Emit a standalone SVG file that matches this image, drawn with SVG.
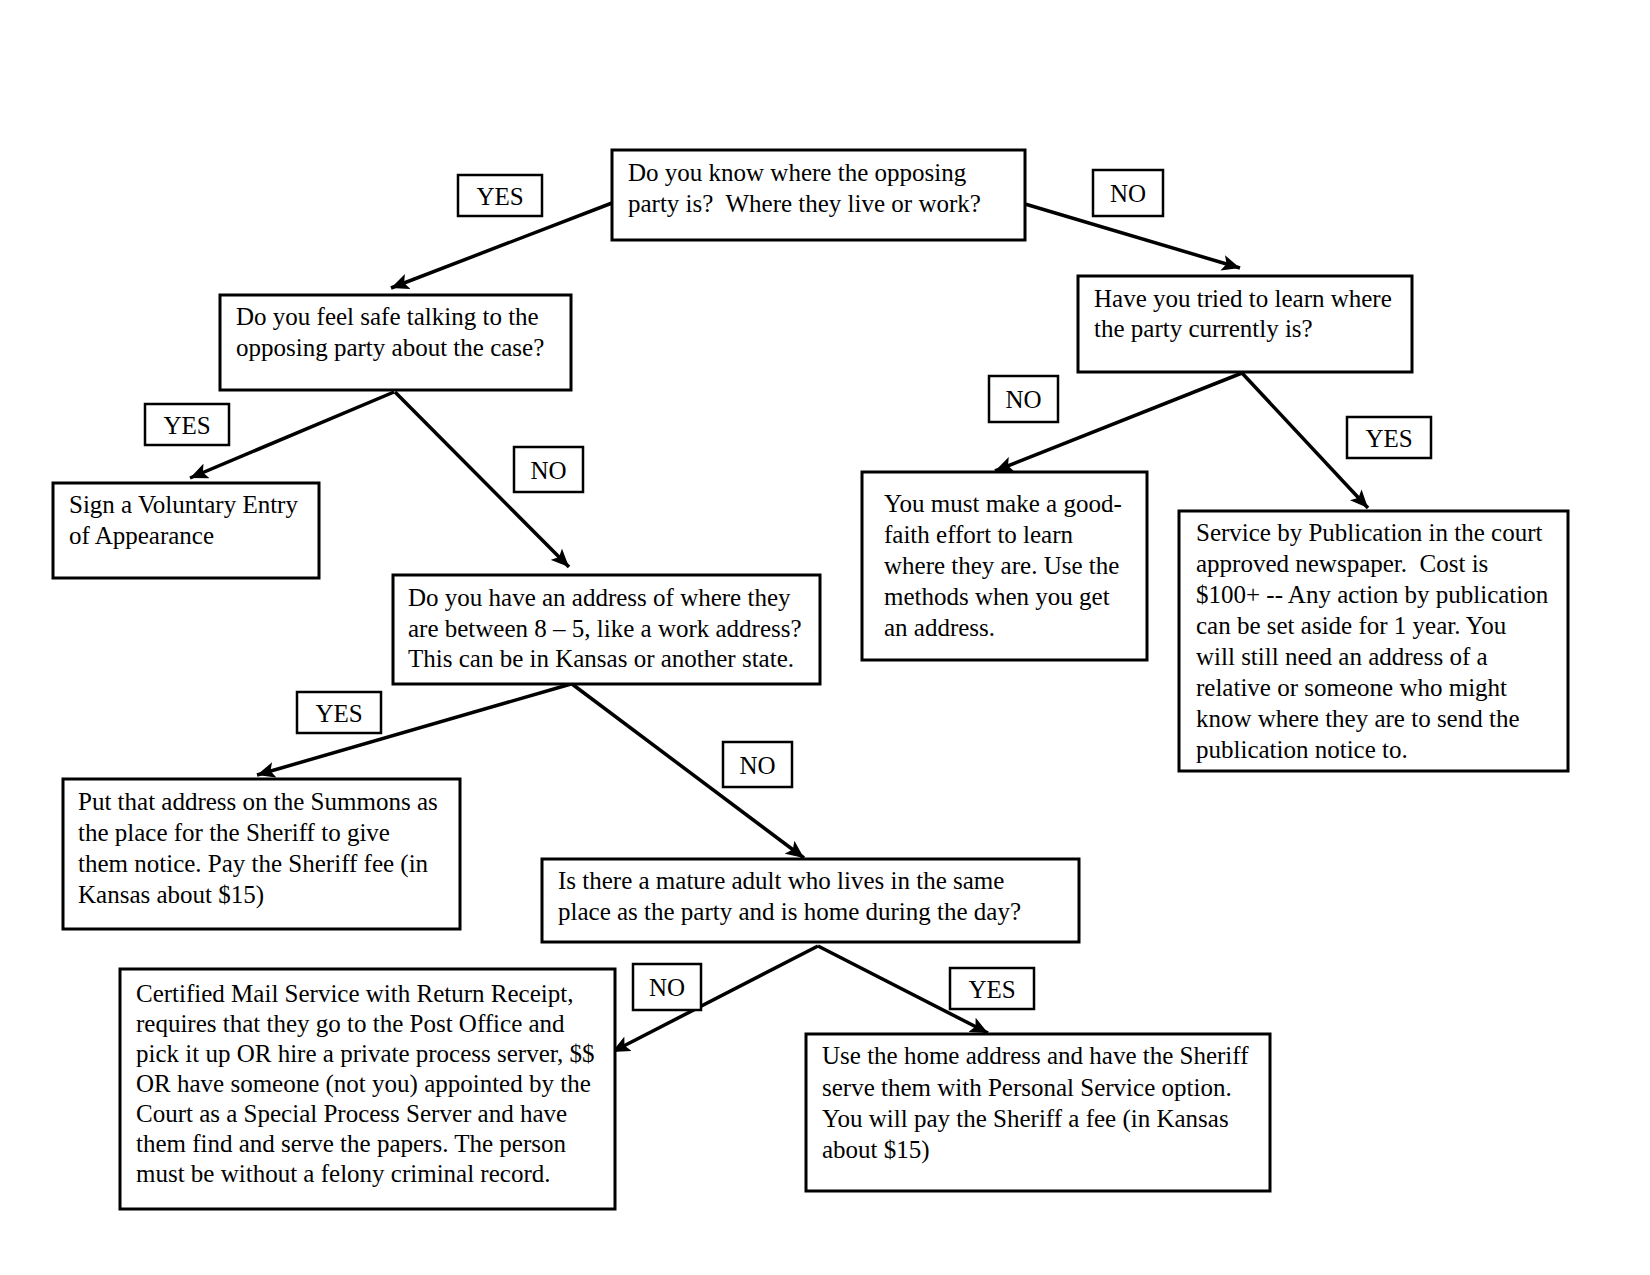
<svg xmlns="http://www.w3.org/2000/svg" width="1650" height="1275" viewBox="0 0 1650 1275">
<style>
.box{fill:#fff;stroke:#000;stroke-width:3}
.lbl{fill:#fff;stroke:#000;stroke-width:2.5}
text{font-family:"Liberation Serif","Times New Roman",serif;font-size:25px;fill:#000;white-space:pre}
.c{text-anchor:middle}
.ar{stroke:#000;stroke-width:3.5;fill:none;marker-end:url(#ah)}
</style>
<defs>
<marker id="ah" markerUnits="userSpaceOnUse" markerWidth="20" markerHeight="16" refX="18" refY="8" orient="auto">
<path d="M0,0 L18,8 L0,16 L4,8 Z" fill="#000"/>
</marker>
</defs>
<rect width="1650" height="1275" fill="#fff"/>
<g id="connectors">
<line class="ar" x1="612" y1="203" x2="391" y2="288"/>
<line class="ar" x1="394" y1="392" x2="190" y2="478"/>
<line class="ar" x1="395" y1="392" x2="569" y2="567"/>
<line class="ar" x1="1025" y1="204" x2="1240" y2="268"/>
<line class="ar" x1="1242" y1="373" x2="995" y2="471"/>
<line class="ar" x1="1242" y1="373" x2="1368" y2="508"/>
<line class="ar" x1="571" y1="684" x2="257" y2="775"/>
<line class="ar" x1="572" y1="684" x2="804" y2="858"/>
<line class="ar" x1="818" y1="946" x2="612" y2="1052"/>
<line class="ar" x1="818" y1="946" x2="988" y2="1033"/>
</g>
<g id="labels">
<g id="l1"><rect class="lbl" x="458" y="175" width="84" height="41"/><text class="c" x="500" y="205">YES</text></g>
<g id="l2"><rect class="lbl" x="1093" y="170" width="70" height="46"/><text class="c" x="1128" y="202">NO</text></g>
<g id="l3"><rect class="lbl" x="145" y="404" width="84" height="41"/><text class="c" x="187" y="434">YES</text></g>
<g id="l4"><rect class="lbl" x="514" y="447" width="69" height="45"/><text class="c" x="548.5" y="479">NO</text></g>
<g id="l5"><rect class="lbl" x="989" y="376" width="69" height="46"/><text class="c" x="1023.5" y="408">NO</text></g>
<g id="l6"><rect class="lbl" x="1347" y="417" width="84" height="41"/><text class="c" x="1389" y="447">YES</text></g>
<g id="l7"><rect class="lbl" x="297" y="692" width="84" height="41"/><text class="c" x="339" y="722">YES</text></g>
<g id="l8"><rect class="lbl" x="723" y="742" width="69" height="45"/><text class="c" x="757.5" y="774">NO</text></g>
<g id="l9"><rect class="lbl" x="633" y="964" width="68" height="46"/><text class="c" x="667" y="996">NO</text></g>
<g id="l10"><rect class="lbl" x="950" y="968" width="84" height="41"/><text class="c" x="992" y="998">YES</text></g>
</g>
<g id="nodeA"><rect class="box" x="612" y="150" width="413" height="90"/>
<text x="628" y="181">Do you know where the opposing</text><text x="628" y="212">party is?  Where they live or work?</text></g>
<g id="nodeB"><rect class="box" x="220" y="295" width="351" height="95"/>
<text x="236" y="325">Do you feel safe talking to the</text><text x="236" y="356">opposing party about the case?</text></g>
<g id="nodeSign"><rect class="box" x="53" y="483" width="266" height="95"/>
<text x="69" y="513">Sign a Voluntary Entry</text><text x="69" y="544">of Appearance</text></g>
<g id="nodeC"><rect class="box" x="1078" y="276" width="334" height="96"/>
<text x="1094" y="307">Have you tried to learn where</text><text x="1094" y="337">the party currently is?</text></g>
<g id="nodeD"><rect class="box" x="862" y="472" width="285" height="188"/>
<text x="884" y="512">You must make a good-</text><text x="884" y="543">faith effort to learn</text><text x="884" y="574">where they are. Use the</text><text x="884" y="605">methods when you get</text><text x="884" y="636">an address.</text></g>
<g id="nodeE"><rect class="box" x="1179" y="511" width="389" height="260"/>
<text x="1196" y="541">Service by Publication in the court</text><text x="1196" y="572">approved newspaper.  Cost is</text><text x="1196" y="603">$100+ -- Any action by publication</text><text x="1196" y="634">can be set aside for 1 year. You</text><text x="1196" y="665">will still need an address of a</text><text x="1196" y="696">relative or someone who might</text><text x="1196" y="727">know where they are to send the</text><text x="1196" y="758">publication notice to.</text></g>
<g id="nodeF"><rect class="box" x="393" y="575" width="427" height="109"/>
<text x="408" y="606">Do you have an address of where they</text><text x="408" y="637">are between 8 – 5, like a work address?</text><text x="408" y="667">This can be in Kansas or another state.</text></g>
<g id="nodeG"><rect class="box" x="63" y="779" width="397" height="150"/>
<text x="78" y="810">Put that address on the Summons as</text><text x="78" y="841">the place for the Sheriff to give</text><text x="78" y="872">them notice. Pay the Sheriff fee (in</text><text x="78" y="903">Kansas about $15)</text></g>
<g id="nodeH"><rect class="box" x="542" y="859" width="537" height="83"/>
<text x="558" y="889">Is there a mature adult who lives in the same</text><text x="558" y="920">place as the party and is home during the day?</text></g>
<g id="nodeI"><rect class="box" x="120" y="969" width="495" height="240"/>
<text x="136" y="1002">Certified Mail Service with Return Receipt,</text><text x="136" y="1032">requires that they go to the Post Office and</text><text x="136" y="1062">pick it up OR hire a private process server, $$</text><text x="136" y="1092">OR have someone (not you) appointed by the</text><text x="136" y="1122">Court as a Special Process Server and have</text><text x="136" y="1152">them find and serve the papers. The person</text><text x="136" y="1182">must be without a felony criminal record.</text></g>
<g id="nodeJ"><rect class="box" x="806" y="1034" width="464" height="157"/>
<text x="822" y="1064">Use the home address and have the Sheriff</text><text x="822" y="1096">serve them with Personal Service option.</text><text x="822" y="1127">You will pay the Sheriff a fee (in Kansas</text><text x="822" y="1158">about $15)</text></g>
</svg>
